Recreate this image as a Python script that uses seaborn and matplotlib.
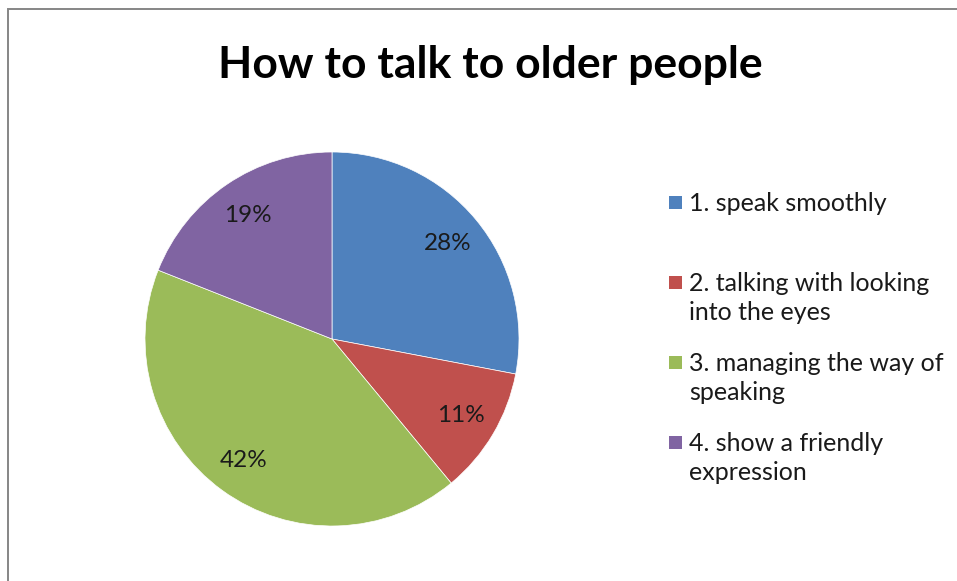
import matplotlib
matplotlib.use("Agg")
import matplotlib.pyplot as plt
from matplotlib.patches import Rectangle
import seaborn as sns

# Chart data
categories = [
    "1. speak smoothly",
    "2. talking with looking\ninto the eyes",
    "3. managing the way of\nspeaking",
    "4. show a friendly\nexpression",
]
shares = [28, 11, 42, 19]
colors = ["#4F81BD", "#C0504D", "#9BBB59", "#8064A2"]
title = "How to talk to older people"

sns.set_theme(style="white")
plt.rcParams["font.family"] = ["Lato", "DejaVu Sans"]

W, H = 957, 581
fig = plt.figure(figsize=(W / 100, H / 100), dpi=100)
fig.patch.set_facecolor("white")

# chart-area frame (left and top edges visible)
fig.add_artist(Rectangle((8 / W, -0.05), 1.2, 1 - 8.5 / H + 0.05,
                         transform=fig.transFigure, fill=False,
                         edgecolor="#868686", linewidth=1.4))

# pie axes: centre (332, 339) px, radius 187 px
cx, cy, r = 332, 339, 187
ax = fig.add_axes([(cx - r) / W, (H - cy - r) / H, 2 * r / W, 2 * r / H])
wedges, texts, autotexts = ax.pie(
    shares, colors=colors, startangle=90, counterclock=False,
    autopct=lambda p: f"{p:.0f}%", pctdistance=0.8,
    wedgeprops=dict(linewidth=0.5, edgecolor="white"),
    textprops=dict(fontsize=17.5, color="#1a1a1a"),
    radius=1.0,
)
ax.set_xlim(-1, 1)
ax.set_ylim(-1, 1)
ax.set_aspect("equal")
ax.axis("off")

fig.text(490 / W, 1 - 78 / H, title, ha="center", va="baseline",
         fontsize=32, fontweight="bold", color="black")

# legend: colour key plus wrapped labels
baselines = [211, 291, 371, 451]
line_gap = 29.5
for lab, col, base in zip(categories, colors, baselines):
    fig.add_artist(Rectangle((669 / W, 1 - (base - 2) / H), 13 / W, 13 / H,
                             transform=fig.transFigure, facecolor=col,
                             edgecolor="none"))
    for i, ln in enumerate(lab.split("\n")):
        fig.text(689 / W, 1 - (base + line_gap * i) / H, ln,
                 ha="left", va="baseline", fontsize=18, color="#1a1a1a")

fig.savefig("out.png", dpi=100)
